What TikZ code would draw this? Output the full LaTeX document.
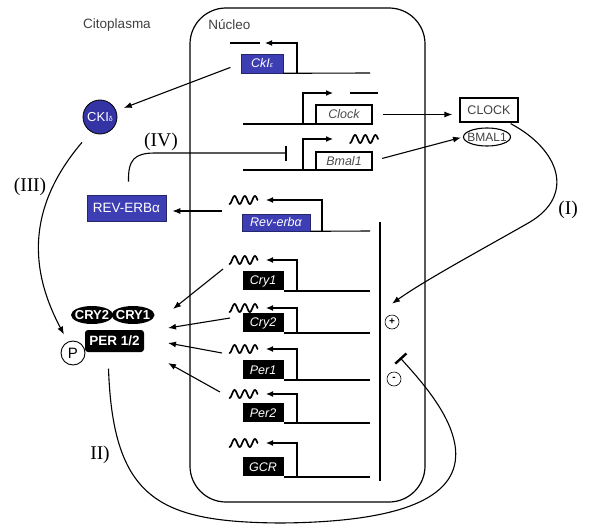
\documentclass[tikz,border=0pt]{standalone}
\usepackage{fontspec}
\setmainfont{Liberation Serif}
\setsansfont{Liberation Sans}
\usetikzlibrary{arrows.meta,shapes.geometric,calc}
\definecolor{geneblue}{RGB}{62,62,180}
\definecolor{ckblue}{RGB}{52,52,165}
\begin{document}
\begin{tikzpicture}[x=1pt,y=-1pt, line width=1.1pt,
  lbl/.style={font=\sffamily\fontsize{13.5}{14}\selectfont, text=black!75, inner sep=0pt},
  gene/.style={inner sep=0pt, font=\sffamily\itshape\fontsize{12.5}{12.5}\selectfont},
  gblue/.style={gene, fill=geneblue, draw=geneblue!60!black, line width=0.6pt, text=white},
  gblack/.style={gene, fill=black, text=white},
  gwhite/.style={gene, draw=black, line width=1.1pt, text=black!70},
  arr/.style={-{Latex[length=8pt,width=6pt]}, line width=1.1pt},
  prom/.style={-{Latex[length=7pt,width=6pt]}, line width=1.1pt},
  roman/.style={font=\fontsize{19.5}{20}\selectfont, inner sep=0pt},
  prot/.style={font=\sffamily\bfseries\fontsize{13}{13}\selectfont, text=white},
  mrna/.pic={\draw[line width=1.7pt, line cap=round, line join=round] plot[domain=-14:14, samples=60, smooth] (\x, {4*cos((\x+14)/28*2.75*360)});},
  dashm/.style={line width=1.8pt},
  inhib/.style={line width=1.1pt, -{Bar[width=15pt,line width=2.4pt]}}
]
\useasboundingbox (0,0) rectangle (593,524);

% nucleus
\node[draw, line width=1.2pt, rounded corners=36pt, minimum width=235pt, minimum height=494pt, inner sep=0pt] (nuc) at (307.5,255) {};
\node[lbl] (cito) at (117,25) {Citoplasma};
\node[lbl] (nuctext) at (229.5,25) {Núcleo};

% CKIe gene
\node[gblue, minimum width=42pt, minimum height=19pt] (ckie) at (262,63.5) {CkI{\scriptsize ε}};
\draw (ckie.south east) -- (370,73);
\draw[prom] (297,73) |- (265,43);
\draw[dashm] (230,43) -- (260,43);

% Clock gene
\node[gwhite, minimum width=56pt, minimum height=19pt] (clockg) at (344,114.5) {Clock};
\draw (243,124) -- (372,124);
\draw[prom] (303,124) |- (333,93);
\draw[dashm] (350,93) -- (378,93);

% Bmal1 gene
\node[gwhite, minimum width=56pt, minimum height=18pt] (bmalg) at (344,161) {Bmal1};
\draw (243,170) -- (372,170);
\draw[prom] (303,170) |- (333,139);
\pic at (364,139) {mrna};

% Rev-erb gene
\node[gblue, minimum width=68pt, minimum height=17pt] (reverbg) at (276,222.5) {Rev-erbα};
\draw (reverbg.south east) -- (370,231);
\draw[prom] (322,231) |- (266,200);
\pic at (243.5,200) {mrna};

% Cry / Per / GCR genes
\foreach \n/\lab/\yb/\ya in {cry1g/Cry1/291/260, cry2g/Cry2/333/308, per1g/Per1/380/349, per2g/Per2/423/394, gcrg/GCR/477/443} {
  \node[gblack, minimum width=41pt, minimum height=19pt, anchor=south west] (\n) at (242,\yb) {\lab};
  \draw (\n.south east) -- (370,\yb);
  \draw[prom] (297,\yb) |- (266,\ya);
  \pic at (243.5,\ya) {mrna};
}

% long vertical line and +/- circles
\coordinate (vtop) at (380,222);
\coordinate (vbot) at (380,481);
\draw (vtop) -- (vbot);
\node[circle, draw, line width=0.6pt, minimum size=14pt, inner sep=0pt, font=\sffamily\bfseries\fontsize{10}{10}\selectfont] (plus) at (392,322) {+};
\node[circle, draw, line width=0.6pt, minimum size=14pt, inner sep=0pt, font=\sffamily\bfseries\fontsize{10}{10}\selectfont] (minus) at (394,379) {-};

% CLOCK / BMAL1 proteins
\node[draw, line width=1.2pt, minimum width=58pt, minimum height=24pt, inner sep=0pt, font=\sffamily\fontsize{12.5}{12}\selectfont, text=black!75] (CLOCK) at (489,110) {CLOCK};
\node[ellipse, draw, line width=1.1pt, inner xsep=-4pt, inner ysep=0pt, minimum width=47pt, minimum height=18pt, font=\sffamily\fontsize{12}{12}\selectfont, text=black!75] (BMAL1) at (487,137) {BMAL1};

% CKId
\node[circle, fill=ckblue, draw=black, line width=0.8pt, minimum size=34pt, inner sep=0pt, text=white, font=\sffamily\fontsize{13}{13}\selectfont] (ckid) at (100,117) {CKI{\scriptsize δ}};

% REV-ERBa
\node[fill=geneblue, draw=geneblue!60!black, line width=0.6pt, text=white, font=\sffamily\fontsize{13.5}{13}\selectfont, minimum width=79pt, minimum height=26pt, inner sep=0pt] (REV) at (126.5,208) {REV-ERBα};

% complex
\node[ellipse, fill=black, prot, inner xsep=-4pt, inner ysep=0pt, minimum width=42pt, minimum height=18pt] (CRY2) at (92,315) {CRY2};
\node[ellipse, fill=black, prot, inner xsep=-4pt, inner ysep=0pt, minimum width=43pt, minimum height=18pt] (CRY1) at (133,315) {CRY1};
\node[fill=black, rounded corners=3pt, prot, font=\sffamily\bfseries\fontsize{13.5}{14}\selectfont, minimum width=59pt, minimum height=22pt, inner sep=0pt] (PER) at (114.5,341) {PER 1/2};
\node[circle, draw, fill=white, line width=0.9pt, minimum size=24pt, inner sep=0pt, font=\sffamily\fontsize{15}{15}\selectfont] (P) at (73,353) {P};

% arrows
\draw[arr, shorten <=11pt, shorten >=8pt] (ckie.west) -- (ckid);
\draw[arr, shorten <=10pt, shorten >=7pt] (clockg.east) -- (clockg.east -| CLOCK.west);
\draw[arr, shorten <=10pt, shorten >=2pt] (bmalg.east) -- (BMAL1.west);
\coordinate (revs) at (222,211);
\draw[arr, shorten >=6pt] (revs) -- (revs -| REV.east);

\coordinate (c1s) at (223,269); \coordinate (c1e) at (173,309);
\coordinate (c2s) at (230,318); \coordinate (c2e) at (168,328);
\coordinate (p1s) at (222,353); \coordinate (p1e) at (168,343);
\coordinate (p2s) at (220,392); \coordinate (p2e) at (168,363);
\draw[arr] (c1s) -- (c1e);
\draw[arr] (c2s) -- (c2e);
\draw[arr] (p1s) -- (p1e);
\draw[arr] (p2s) -- (p2e);

% (I)
\draw[arr] ($(CLOCK.south east)+(-8,1)$) .. controls (560,150) and (575,195) .. (530,222) .. controls (490,245) and (425,280) .. ($(plus.north)+(0,-11)$);
% (II)
\draw[inhib] ($(PER.south)+(-6,16)$) .. controls (113,500) and (160,522) .. (280,523) .. controls (420,522) and (462,490) .. (455,445) .. controls (450,415) and (425,385) .. ($(minus.north)+(6,-14)$);
% (III)
\draw[arr] ($(ckid.south)+(-18,8)$) .. controls (20,215) and (35,280) .. ($(P.north)+(-9,-6)$);
% (IV)
\coordinate (ivend) at (287,153);
\draw[inhib] ($(REV.north)+(2,-13)$) .. controls (128,160) and (134,153) .. (155,153) -- (ivend);

% roman labels
\node[roman] (lI) at (568,210) {(I)};
\node[roman] (lII) at (100,455) {II)};
\node[roman] (lIII) at (30,187) {(III)};
\node[roman] (lIV) at (161,142) {(IV)};
\end{tikzpicture}
\end{document}
